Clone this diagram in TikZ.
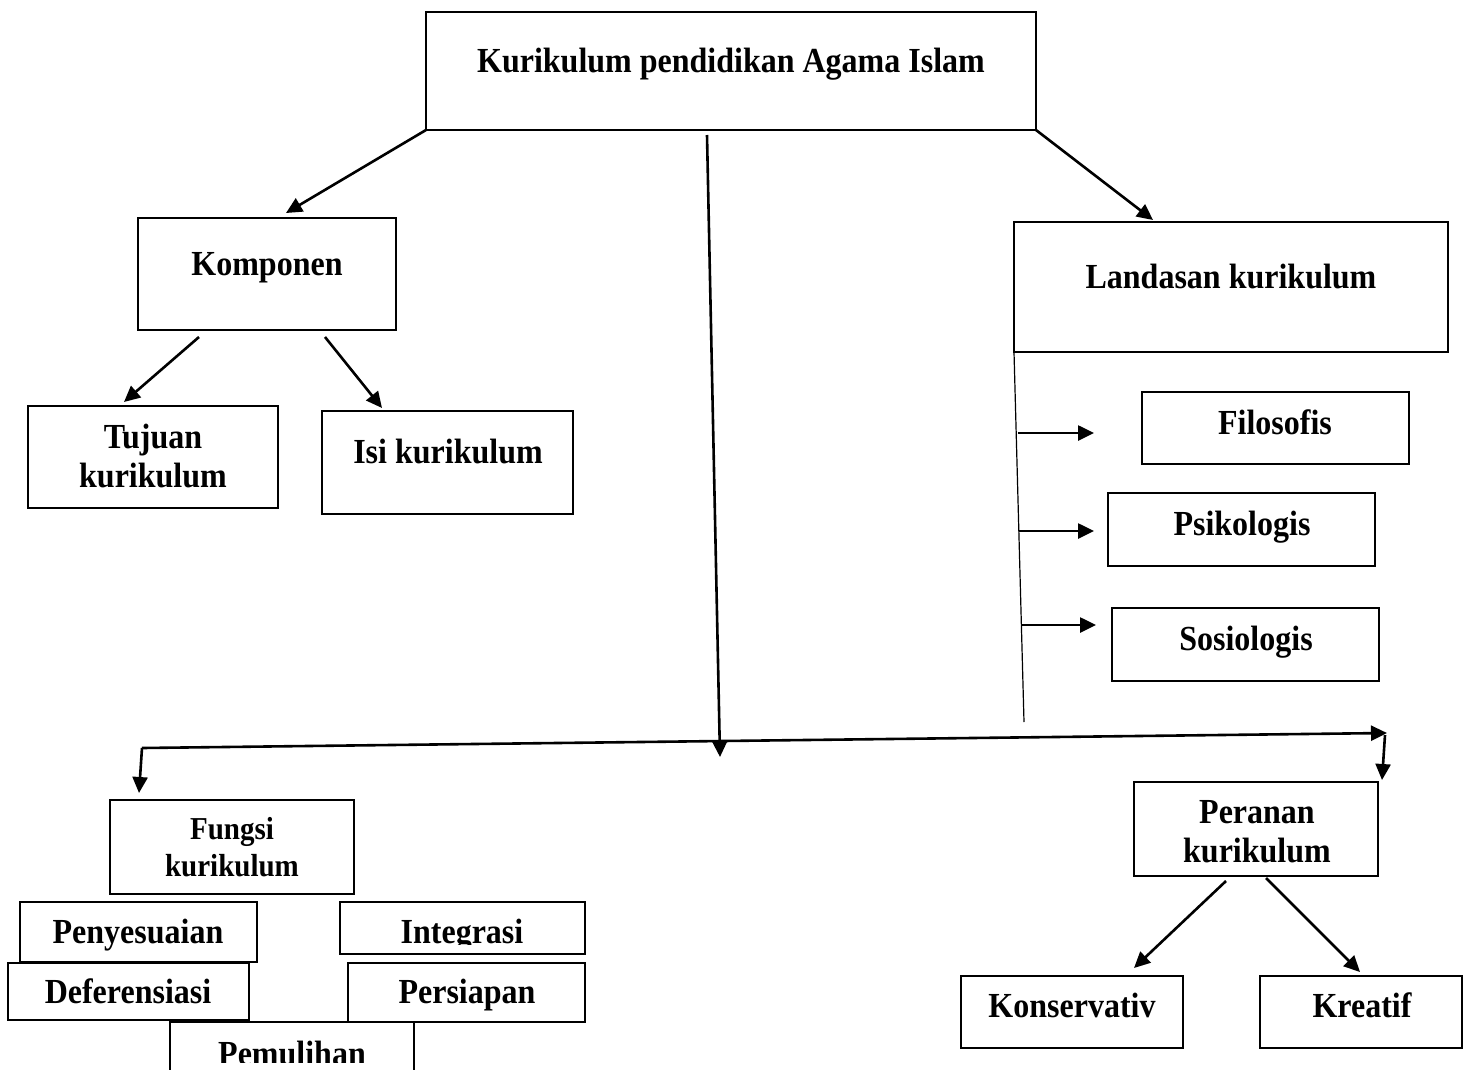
\documentclass[tikz,border=0pt]{standalone}
\usepackage{fontspec}
\setmainfont{Liberation Serif}
\usetikzlibrary{arrows.meta}
\newcommand\tallt[1]{\scalebox{1}[1.1]{#1}}
\begin{document}
\begin{tikzpicture}[x=1pt,y=-1pt,
  box/.style={draw, line width=2.8pt, inner sep=0pt, outer sep=0pt, anchor=north west},
  lbl/.style={font=\fontsize{32}{36}\selectfont\bfseries, inner sep=0pt, anchor=base},
  lbls/.style={font=\fontsize{29}{33}\selectfont\bfseries, inner sep=0pt, anchor=base},
  arr/.style={line width=2.6pt, -{Triangle[length=16pt,width=15pt]}},
  thinline/.style={line width=1.2pt}]
\clip (0,0) rectangle (1473,1069);
\fill[white] (0,0) rectangle (1473,1069);

% boxes
\node[box, minimum width=610pt, minimum height=118pt] (top) at (426,12) {};
\node[box, minimum width=258pt, minimum height=112pt] (kom) at (138,218) {};
\node[box, minimum width=250pt, minimum height=102pt] (tuj) at (28,406) {};
\node[box, minimum width=251pt, minimum height=103pt] (isi) at (322,411) {};
\node[box, minimum width=434pt, minimum height=130pt] (lan) at (1014,222) {};
\node[box, minimum width=267pt, minimum height=72pt] (fil) at (1142,392) {};
\node[box, minimum width=267pt, minimum height=73pt] (psi) at (1108,493) {};
\node[box, minimum width=267pt, minimum height=73pt] (sos) at (1112,608) {};
\node[box, minimum width=244pt, minimum height=94pt] (fun) at (110,800) {};
\node[box, minimum width=237pt, minimum height=60pt] (pen) at (20,902) {};
\node[box, minimum width=245pt, minimum height=52pt] (int) at (340,902) {};
\node[box, minimum width=241pt, minimum height=57pt] (def) at (8,963) {};
\node[box, minimum width=237pt, minimum height=59pt] (per) at (348,963) {};
\node[box, minimum width=244pt, minimum height=80pt] (pem) at (170,1022) {};
\node[box, minimum width=244pt, minimum height=94pt] (ran) at (1134,782) {};
\node[box, minimum width=222pt, minimum height=72pt] (kon) at (961,976) {};
\node[box, minimum width=202pt, minimum height=72pt] (kre) at (1260,976) {};

% labels
\node[lbl] (topt) at (731,72) {\tallt{Kurikulum pendidikan Agama Islam}};
\node[lbl] (komt) at (267,275) {\tallt{Komponen}};
\node[lbl] (tujt1) at (153,448) {\tallt{Tujuan}};
\node[lbl] (tujt2) at (153,487) {\tallt{kurikulum}};
\node[lbl] (isit) at (448,463) {\tallt{Isi kurikulum}};
\node[lbl] (lant) at (1231,288) {\tallt{Landasan kurikulum}};
\node[lbl] (filt) at (1275,434) {\tallt{Filosofis}};
\node[lbl] (psit) at (1242,535) {\tallt{Psikologis}};
\node[lbl] (sost) at (1246,650) {\tallt{Sosiologis}};
\node[lbls] (funt1) at (232,839) {\tallt{Fungsi}};
\node[lbls] (funt2) at (232,876) {\tallt{kurikulum}};
\node[lbl] (pent) at (138,943) {\tallt{Penyesuaian}};
\begin{scope}
  \clip (340,902) rectangle (585,944);
  \node[lbl] (intt) at (462,943) {\tallt{Integrasi}};
\end{scope}
\node[lbl] (deft) at (128,1003) {\tallt{Deferensiasi}};
\node[lbl] (pert) at (467,1003) {\tallt{Persiapan}};
\begin{scope}
  \clip (170,1022) rectangle (414,1062);
  \node[lbl] (pemt) at (292,1065) {\tallt{Pemulihan}};
\end{scope}
\node[lbl] (rant1) at (1257,823) {\tallt{Peranan}};
\node[lbl] (rant2) at (1257,862) {\tallt{kurikulum}};
\node[lbl] (kont) at (1072,1017) {\tallt{Konservativ}};
\node[lbl] (kret) at (1362,1017) {\tallt{Kreatif}};

% connector coordinates
\coordinate (komin) at (286,213);
\coordinate (komL) at (199,337);
\coordinate (tujin) at (124,402);
\coordinate (komR) at (325,337);
\coordinate (isiin) at (382,408);
\coordinate (lanin) at (1153,220);
\coordinate (midtop) at (707,135);
\coordinate (midbot) at (720,757);
\coordinate (hL) at (142,748);
\coordinate (hR) at (1387,733);
\coordinate (hRd) at (1385,735);
\coordinate (funin) at (139,793);
\coordinate (ranin) at (1382,780);
\coordinate (lantop) at (1014,352);
\coordinate (lanbot) at (1024,722);
\coordinate (b1) at (1018,433);
\coordinate (b1e) at (1094,433);
\coordinate (b2) at (1019,531);
\coordinate (b2e) at (1094,531);
\coordinate (b3) at (1021,625);
\coordinate (b3e) at (1096,625);
\coordinate (ranL) at (1226,881);
\coordinate (konin) at (1134,968);
\coordinate (ranR) at (1266,878);
\coordinate (krein) at (1360,972);

% connectors
\draw[arr] (top.south west) -- (komin);
\draw[arr] (top.south east) -- (lanin);
\draw[arr] (komL) -- (tujin);
\draw[arr] (komR) -- (isiin);
\draw[arr] (midtop) -- (midbot);
\draw[arr] (hL) -- (hR);
\draw[arr] (hL) -- (funin);
\draw[arr] (hRd) -- (ranin);
\draw[thinline] (lantop) -- (lanbot);
\draw[arr] (b1) -- (b1e);
\draw[arr] (b2) -- (b2e);
\draw[arr] (b3) -- (b3e);
\draw[arr] (ranL) -- (konin);
\draw[arr] (ranR) -- (krein);
\end{tikzpicture}
\end{document}
